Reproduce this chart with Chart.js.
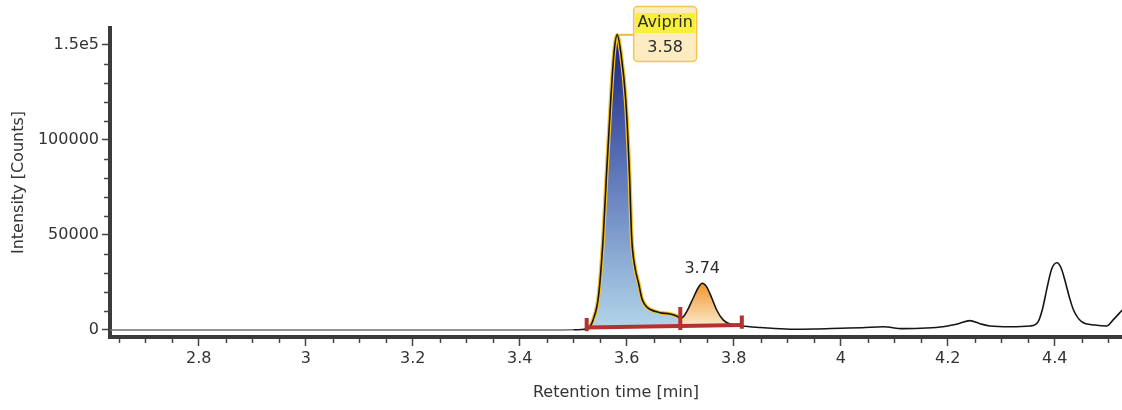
<!DOCTYPE html>
<html>
<head>
<meta charset="utf-8">
<script src="https://cdn.jsdelivr.net/npm/chart.js@4.4.0/dist/chart.umd.min.js"></script>
<style>
  html, body { margin: 0; padding: 0; background: #fff; }
</style>
</head>
<body>
<canvas id="chromChart" width="1122" height="410"></canvas>
<script>
// chromatogram trace
let retentionTime = [2.634, 2.75, 2.9, 3.05, 3.2, 3.35, 3.45, 3.5, 3.515, 3.525,
  3.531, 3.537, 3.547, 3.556, 3.562, 3.570, 3.576, 3.582, 3.589, 3.598,
  3.605, 3.609, 3.615, 3.622, 3.628, 3.634, 3.643, 3.662, 3.681, 3.693,
  3.700, 3.706, 3.712, 3.724, 3.734, 3.741, 3.749, 3.759, 3.768, 3.780,
  3.793, 3.815, 3.85, 3.905, 3.95, 4.0, 4.04, 4.079, 4.116, 4.16,
  4.191, 4.22, 4.241, 4.26, 4.279, 4.316, 4.354, 4.369, 4.377, 4.385,
  4.394, 4.404, 4.412, 4.419, 4.427, 4.435, 4.450, 4.475, 4.497, 4.509,
  4.526];
let intensity = [0, 0, 0, 0, 0, 0, 0, 100, 250, 600,
  1740, 5300, 17500, 49100, 81600, 121000, 145600, 155300, 145600, 121000,
  81600, 49100, 33300, 24600, 16700, 13200, 10900, 9100, 8400, 7400,
  6200, 7000, 9600, 16700, 22500, 24600, 22800, 16700, 10500, 5300,
  3200, 2100, 1300, 400, 500, 900, 1200, 1700, 700, 1000,
  1700, 3300, 4900, 3300, 2100, 1700, 2100, 4400, 11000, 21500,
  32000, 35400, 32500, 26000, 17500, 10500, 4400, 2600, 2100, 5300,
  10500];

// integrated peaks
let peakNames = ['Aviprin', ''];
let peakStart = [3.525, 3.700];
let peakEnd = [3.700, 3.815];

// integration baseline and its markers
let baseTime = [3.525, 3.815];
let baseLevel = [1300, 2600];
let markTime = [3.525, 3.700, 3.815];
let markTop = [6300, 12100, 7600];
let markBottom = [-700, 0, 600];

// axes
let xTickValues = [2.8, 3, 3.2, 3.4, 3.6, 3.8, 4, 4.2, 4.4];
let xTickLabels = ['2.8', '3', '3.2', '3.4', '3.6', '3.8', '4', '4.2', '4.4'];
let yTickValues = [0, 50000, 100000, 150000];
let yTickLabels = ['0', '50000', '100000', '1.5e5'];

const fontFamily = '"DejaVu Sans", sans-serif';
const textColor = '#333333';

function tracePoints(t0, t1) {
  return retentionTime
    .map((t, i) => ({ x: t, y: intensity[i] }))
    .filter(p => p.x >= t0 - 1e-9 && p.x <= t1 + 1e-9);
}

// apex of each peak window
let peakApex = peakStart.map((s, i) => {
  return tracePoints(s, peakEnd[i]).reduce((a, b) => (b.y > a.y ? b : a));
});

function peakGradient(context, stops) {
  const chart = context.chart;
  const { ctx, chartArea, scales } = chart;
  if (!chartArea) return stops[stops.length - 1][1];
  const apex = peakApex[context.datasetIndex - 1];
  const g = ctx.createLinearGradient(0, scales.y.getPixelForValue(apex.y), 0, scales.y.getPixelForValue(0));
  stops.forEach(s => g.addColorStop(s[0], s[1]));
  return g;
}

let markerData = [];
markTime.forEach((t, i) => {
  markerData.push({ x: t, y: markTop[i] }, { x: t, y: markBottom[i] }, { x: t, y: null });
});

// minor tick marks between the labelled ones
const minorTicks = {
  id: 'minorTicks',
  afterDraw(chart) {
    const { ctx, chartArea: a, scales: { x, y } } = chart;
    ctx.save();
    ctx.strokeStyle = '#444';
    ctx.lineWidth = 1.5;
    ctx.beginPath();
    for (let k = Math.ceil(x.min * 20); k <= Math.floor(x.max * 20); k++) {
      if (k % 4 === 0) continue;
      const px = Math.round(x.getPixelForValue(k / 20)) + 0.5;
      ctx.moveTo(px, a.bottom + 1);
      ctx.lineTo(px, a.bottom + 6);
    }
    for (let k = 1; k * 10000 <= y.max; k++) {
      if (k % 5 === 0) continue;
      const py = Math.round(y.getPixelForValue(k * 10000)) + 0.5;
      ctx.moveTo(a.left - 1, py);
      ctx.lineTo(a.left - 6, py);
    }
    ctx.stroke();
    ctx.restore();
  }
};

// retention time labels above the peaks
const peakLabels = {
  id: 'peakLabels',
  afterDatasetsDraw(chart) {
    const { ctx, scales: { x, y } } = chart;
    ctx.save();
    ctx.font = '16px ' + fontFamily;
    ctx.textAlign = 'center';
    ctx.textBaseline = 'middle';
    peakApex.forEach((p, i) => {
      const px = x.getPixelForValue(p.x);
      const py = y.getPixelForValue(p.y);
      const rt = p.x.toFixed(2);
      if (peakNames[i]) {
        const left = px + 16, top = 6, w = 63, h = 55;
        ctx.strokeStyle = '#f2b844';
        ctx.lineWidth = 2;
        ctx.beginPath();
        ctx.moveTo(px + 2, py);
        ctx.lineTo(left, py);
        ctx.stroke();
        ctx.beginPath();
        ctx.roundRect(left + 0.5, top + 0.5, w, h, 4);
        ctx.fillStyle = '#fdecc2';
        ctx.fill();
        ctx.strokeStyle = '#f3c650';
        ctx.lineWidth = 1.5;
        ctx.stroke();
        ctx.fillStyle = '#f8ee3e';
        ctx.fillRect(left + 2, top + 7, w - 3, 20);
        ctx.fillStyle = '#2b2b2b';
        ctx.fillText(peakNames[i], left + w / 2 + 0.5, top + 17);
        ctx.fillText(rt, left + w / 2 + 0.5, top + 42);
      } else {
        ctx.fillStyle = '#2b2b2b';
        ctx.fillText(rt, px, py - 14);
      }
    });
    ctx.restore();
  }
};

let ctx = document.getElementById('chromChart').getContext('2d');

// eslint-disable-next-line no-unused-vars
let chromChart = new Chart(ctx, {
  type: 'line',
  data: {
    datasets: [{
      // full trace
      data: tracePoints(2.6, 4.6),
      borderColor: '#151515',
      borderWidth: 1.6,
      segment: {
        borderColor: c => (c.p0.parsed.x < 3.5 ? '#707070' : '#151515')
      },
      cubicInterpolationMode: 'monotone',
      fill: false,
      order: 2
    }, {
      data: tracePoints(peakStart[0], peakEnd[0]),
      borderColor: '#f2c232',
      borderWidth: 4,
      cubicInterpolationMode: 'monotone',
      backgroundColor: c => peakGradient(c, [[0, '#1a2180'], [0.45, '#5b74b8'], [1, '#b3d6ea']]),
      fill: 3,
      order: 4
    }, {
      data: tracePoints(peakStart[1], peakEnd[1]),
      borderWidth: 0,
      borderColor: 'rgba(0,0,0,0)',
      cubicInterpolationMode: 'monotone',
      backgroundColor: c => peakGradient(c, [[0, '#f0942a'], [1, '#fdf2da']]),
      fill: 3,
      order: 3
    }, {
      // integration baseline
      data: baseTime.map((t, i) => ({ x: t, y: baseLevel[i] })),
      borderColor: '#b3322f',
      borderWidth: 4,
      fill: false,
      order: 1
    }, {
      data: markerData,
      borderColor: '#b3322f',
      borderWidth: 4,
      spanGaps: false,
      fill: false,
      order: 0
    }]
  },
  options: {
    responsive: false,
    devicePixelRatio: 1,
    animation: false,
    layout: { padding: { top: 28, left: 0, right: 0, bottom: 0 } },
    elements: { point: { radius: 0 } },
    plugins: {
      legend: { display: false },
      tooltip: { enabled: false }
    },
    scales: {
      x: {
        type: 'linear',
        min: 2.634,
        max: 4.5256,
        afterFit: s => { s.height = 73; },
        afterBuildTicks: s => { s.ticks = xTickValues.map(v => ({ value: v })); },
        ticks: {
          callback: (v, i) => xTickLabels[i],
          autoSkip: false,
          maxRotation: 0,
          padding: 3,
          color: textColor,
          font: { family: fontFamily, size: 16 }
        },
        grid: { drawOnChartArea: false, tickLength: 9, tickColor: '#444', tickWidth: 1.5 },
        border: { color: '#3b3b3b', width: 4 },
        title: {
          display: true,
          text: 'Retention time [min]',
          color: textColor,
          font: { family: fontFamily, size: 16 },
          padding: { top: 0, bottom: 8 }
        }
      },
      y: {
        type: 'linear',
        min: -3700,
        max: 158900,
        afterFit: s => { s.width = 110; },
        afterBuildTicks: s => { s.ticks = yTickValues.map(v => ({ value: v })); },
        ticks: {
          callback: (v, i) => yTickLabels[i],
          autoSkip: false,
          padding: 3,
          color: textColor,
          font: { family: fontFamily, size: 16 }
        },
        grid: { drawOnChartArea: false, tickLength: 8, tickColor: '#444', tickWidth: 1.5 },
        border: { color: '#3b3b3b', width: 4 },
        title: {
          display: true,
          text: 'Intensity [Counts]',
          color: textColor,
          font: { family: fontFamily, size: 16 },
          padding: { top: 9, bottom: 0 }
        }
      }
    }
  },
  plugins: [minorTicks, peakLabels]
});
</script>
</body>
</html>
